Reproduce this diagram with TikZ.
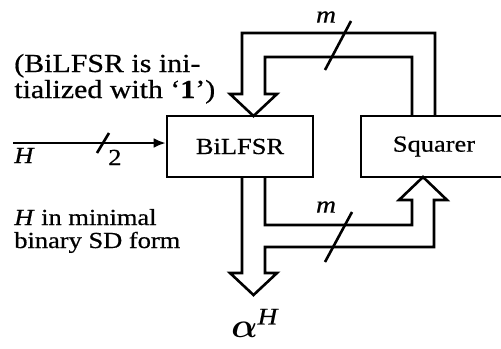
\documentclass[tikz,border=0pt]{standalone}
\usepackage{fontspec}
\setmainfont{Liberation Serif}[FakeStretch=1.15,FakeBold=0.6]
\usepackage{amsmath}
\usetikzlibrary{arrows.meta}
\begin{document}
\begin{tikzpicture}[x=0.5pt,y=-0.5pt,line width=1.3pt]
\tikzstyle{unit}=[draw, minimum width=73pt, minimum height=30.5pt, inner sep=0pt, font=\fontsize{11.5}{13}\selectfont]
\tikzstyle{note}=[inner sep=0pt, anchor=base west, font=\fontsize{11.5}{13}\selectfont]
\tikzstyle{bignote}=[inner sep=0pt, anchor=base west, font=\fontsize{13}{15}\selectfont]
\tikzstyle{width}=[inner sep=0pt, font=\fontsize{12}{14}\selectfont\itshape]
\useasboundingbox (0,0) rectangle (501,348);
\node[unit] (bilfsr) at (240,146.5) {BiLFSR};
\node[unit] (squarer) at (434,146.5) {Squarer};
\coordinate (t1) at (435,116);
\coordinate (t2) at (435,33);
\coordinate (t3) at (242,33);
\coordinate (t4) at (242,94);
\coordinate (t5) at (230,94);
\coordinate (ttip) at (253.5,116);
\coordinate (t6) at (277,94);
\coordinate (t7) at (265,94);
\coordinate (t8) at (265,57);
\coordinate (t9) at (412,57);
\coordinate (t10) at (412,116);
\coordinate (b1) at (242,177);
\coordinate (b2) at (242,273);
\coordinate (b3) at (230,273);
\coordinate (btip) at (253.5,295);
\coordinate (b4) at (277,273);
\coordinate (b5) at (265,273);
\coordinate (b6) at (265,247);
\coordinate (b7) at (434,247);
\coordinate (b8) at (434,200);
\coordinate (b9) at (447,200);
\coordinate (stip) at (423,177);
\coordinate (b10) at (399,200);
\coordinate (b11) at (412,200);
\coordinate (b12) at (412,225);
\coordinate (b13) at (265,225);
\coordinate (b14) at (265,177);
\coordinate (hin) at (13,143);
\draw (t1) -- (t2) -- (t3) -- (t4) -- (t5) -- (ttip) -- (t6) -- (t7) -- (t8) -- (t9) -- (t10);
\draw (b1) -- (b2) -- (b3) -- (btip) -- (b4) -- (b5) -- (b6) -- (b7) -- (b8) -- (b9) -- (stip) -- (b10) -- (b11) -- (b12) -- (b13) -- (b14);
\draw[-{Latex[length=6pt,width=5pt]}] (hin) -- (hin -| bilfsr.west);
\draw (97,153) -- (109,133);
\draw (325,70) -- (351,21);
\draw (325,262) -- (352,212);
\node[width] (mtop) at (326,17) {m};
\node[width] (mbot) at (326,207) {m};
\node[note, font=\fontsize{11.5}{13}\selectfont\itshape] (hname) at (13,163) {H};
\node[note] (hwidth) at (107,165) {2};
\node[bignote] (init1) at (13,72) {(BiLFSR is ini-};
\node[bignote] (init2) at (13,98) {tialized with ‘\textbf{1}’)};
\node[note] (form1) at (13,225) {\textit{H} in minimal};
\node[note] (form2) at (13,248) {binary SD form};
\node[note, font=\fontsize{17}{19}\selectfont] (out) at (230,337) {$\boldsymbol{\alpha}^{\text{\itshape H}}$};
\end{tikzpicture}
\end{document}
